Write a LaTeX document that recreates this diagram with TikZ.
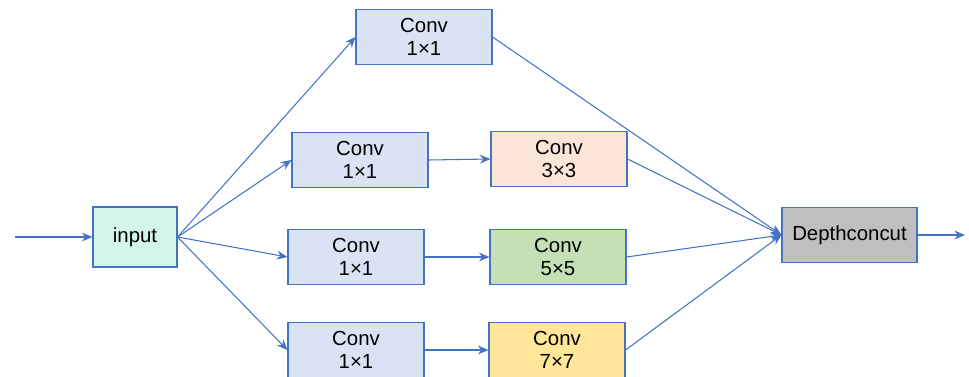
\documentclass[tikz,border=0pt]{standalone}
\usepackage{fontspec}
\setmainfont{Liberation Sans}
\usetikzlibrary{arrows.meta}
\definecolor{lineblue}{HTML}{4472C4}
\definecolor{convblue}{HTML}{DAE3F3}
\definecolor{inmint}{HTML}{D2F7EA}
\definecolor{peach}{HTML}{FBE5D6}
\definecolor{leaf}{HTML}{C5E0B4}
\definecolor{butter}{HTML}{FFE699}
\definecolor{concgray}{HTML}{BFBFBF}
\begin{document}
\begin{tikzpicture}[x=.2mm,y=-.2mm,
	box/.style={draw=lineblue,line width=.6pt,align=center,inner sep=0pt,
		minimum width=2.72cm,minimum height=1.1cm,
		font=\fontsize{11.6}{13}\selectfont},
	arr/.style={draw=lineblue,line width=.6pt,-{Stealth[length=6pt,width=5pt]}}]
	\useasboundingbox (0,0) rectangle (969,377);
	\node[box,fill=inmint,minimum width=1.68cm,minimum height=1.2cm] (in) at (135,237) {input};
	\node[box,fill=convblue] (c1) at (424,37) {Conv\\1×1};
	\node[box,fill=convblue] (c2) at (360,160) {Conv\\1×1};
	\node[box,fill=peach] (c3) at (559,159) {Conv\\3×3};
	\node[box,fill=convblue] (c4) at (356,257) {Conv\\1×1};
	\node[box,fill=leaf] (c5) at (558,257) {Conv\\5×5};
	\node[box,fill=convblue] (c6) at (356,350) {Conv\\1×1};
	\node[box,fill=butter] (c7) at (557,350) {Conv\\7×7};
	\node[box,fill=concgray,minimum width=2.7cm] (dc) at (849.5,235) {Depthconcut};
	\coordinate (src) at (15,237);
	\coordinate (dst) at (965,235);
	% input side
	\draw[arr] (src) -- (in.west);
	\draw[arr] (in.east) -- (c1.west);
	\draw[arr] (in.east) -- (c2.west);
	\draw[arr] (in.east) -- (c4.west);
	\draw[arr] (in.east) -- (c6.west);
	% middle
	\draw[arr] (c2.east) -- (c3.west);
	\draw[arr] (c4.east) -- (c5.west);
	\draw[arr] (c6.east) -- (c7.west);
	% concat side
	\draw[arr] (c1.east) -- (dc.west);
	\draw[arr] (c3.east) -- (dc.west);
	\draw[arr] (c5.east) -- (dc.west);
	\draw[arr] (c7.east) -- (dc.west);
	\draw[arr] (dc.east) -- (dst);
\end{tikzpicture}
\end{document}
